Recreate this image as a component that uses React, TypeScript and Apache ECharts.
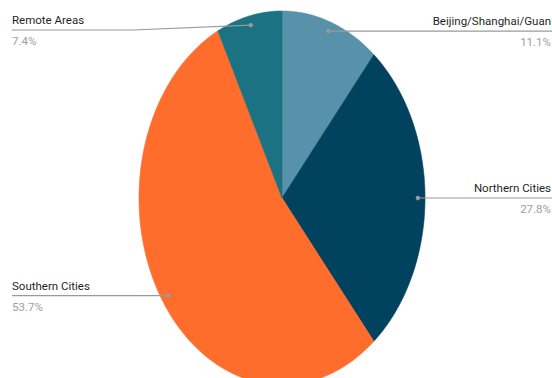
import React, { useEffect, useRef } from "react";
import * as echarts from "echarts";

const categories = ["Beijing/Shanghai/Guan", "Northern Cities", "Southern Cities", "Remote Areas"];
const values = [11.1, 27.8, 53.7, 7.4];
const colors = ["#5891aa", "#01425e", "#ff6d2d", "#1b7282"];

const FONT = "Roboto, 'Liberation Sans', Arial, sans-serif";

export default function App() {
  const ref = useRef<HTMLDivElement>(null);
  useEffect(() => {
    if (!ref.current) return;
    const chart = echarts.init(ref.current, null, { renderer: "svg" });
    const total = values.reduce((a, b) => a + b, 0);
    const cum: number[] = [];
    let acc = 0;
    values.forEach((v) => {
      cum.push(acc);
      acc += v;
    });

    const cx = 282;
    const cy = 198;
    const rx = 143;
    const ry = 187;
    const pt = (theta: number, r: number) => [
      cx + rx * r * Math.sin(theta),
      cy - ry * r * Math.cos(theta),
    ];

    const renderItem = (params: any, api: any) => {
      const i = params.dataIndex;
      const v = api.value(0);
      const W = api.getWidth();
      const a0 = (cum[i] / total) * Math.PI * 2;
      const a1 = ((cum[i] + v) / total) * Math.PI * 2;
      const pts: number[][] = [[cx, cy]];
      const steps = Math.max(4, Math.ceil(((a1 - a0) * 180) / Math.PI));
      for (let s = 0; s <= steps; s++) {
        pts.push(pt(a0 + ((a1 - a0) * s) / steps, 1));
      }
      const mid = (a0 + a1) / 2;
      const dot = pt(mid, 0.95);
      const right = Math.sin(mid) >= 0;
      const labelY = Math.max(dot[1], 30);
      const pct = ((v / total) * 100).toFixed(1) + "%";
      let linePts: number[][];
      let tx: number;
      let align: string;
      if (right) {
        linePts =
          labelY === dot[1]
            ? [dot, [W, labelY]]
            : [dot, [432, labelY], [W, labelY]];
        tx = W - 1;
        align = "right";
      } else {
        linePts =
          labelY === dot[1]
            ? [[12, labelY], dot]
            : [[12, labelY], [133, labelY], dot];
        tx = 12;
        align = "left";
      }
      return {
        type: "group",
        children: [
          {
            type: "polygon",
            shape: { points: pts },
            style: { fill: colors[i], stroke: colors[i], lineWidth: 0.6 },
          },
          {
            type: "polyline",
            shape: { points: linePts },
            style: { stroke: "#9a9a9a", lineWidth: 1.2, fill: null },
            z2: 10,
          },
          {
            type: "circle",
            shape: { cx: dot[0], cy: dot[1], r: 2.2 },
            style: { fill: "#9a9a9a" },
            z2: 11,
          },
          {
            type: "text",
            x: tx,
            y: labelY - 10,
            style: {
              text: categories[i],
              fill: "#1f1f1f",
              font: `11.5px ${FONT}`,
              align,
              verticalAlign: "middle",
            },
            z2: 12,
          },
          {
            type: "text",
            x: tx,
            y: labelY + 11,
            style: {
              text: pct,
              fill: "#9e9e9e",
              font: `11.5px ${FONT}`,
              align,
              verticalAlign: "middle",
            },
            z2: 12,
          },
        ],
      };
    };

    chart.setOption({
      animation: false,
      backgroundColor: "#ffffff",
      series: [
        {
          type: "custom",
          coordinateSystem: "none",
          renderItem,
          data: values.map((v, i) => ({ name: categories[i], value: [v] })),
        },
      ],
    });
    return () => chart.dispose();
  }, []);
  return (
    <div
      ref={ref}
      style={{ position: "absolute", left: 0, top: 0, width: 552, height: 378 }}
    />
  );
}
